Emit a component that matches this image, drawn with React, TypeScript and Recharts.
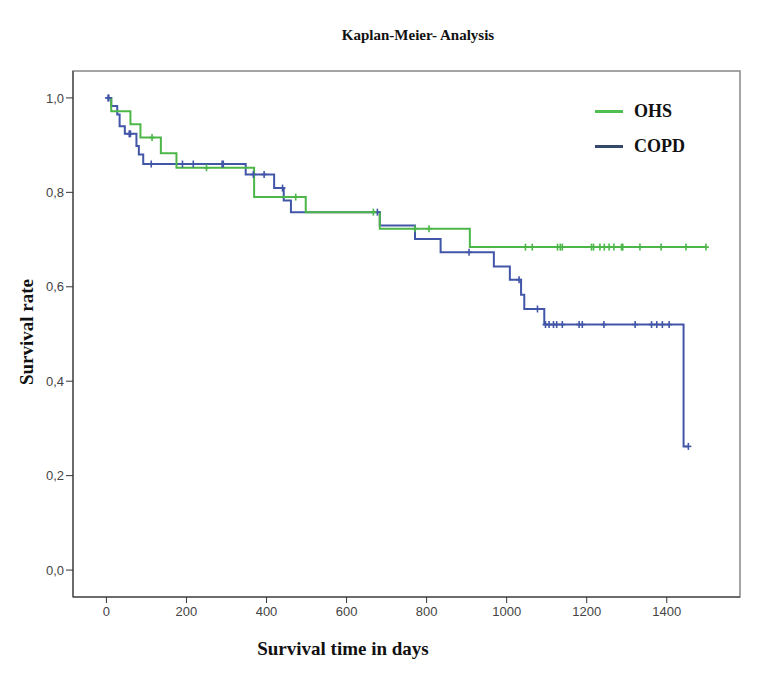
import { ComposedChart, Line, Scatter, XAxis, YAxis, ReferenceArea } from 'recharts'

// Kaplan-Meier step knots (time in days, survival)
const ohsTimes = [3, 12, 60, 85, 136, 175, 369, 498, 683, 908, 1498]
const ohsSurvival = [1.0, 0.972, 0.944, 0.916, 0.883, 0.852, 0.79, 0.758, 0.723, 0.684, 0.684]
const ohsCensored = [114, 250, 473, 667, 771, 806, 1047, 1064, 1127, 1134, 1139, 1212, 1217, 1233, 1244, 1256, 1268, 1287, 1290, 1333, 1386, 1448, 1498]

const copdTimes = [3, 12, 27, 33, 46, 75, 81, 92, 348, 419, 443, 461, 683, 771, 835, 968, 1008, 1036, 1044, 1094, 1442, 1454]
const copdSurvival = [1.0, 0.983, 0.965, 0.94, 0.924, 0.898, 0.88, 0.86, 0.838, 0.809, 0.783, 0.758, 0.73, 0.701, 0.673, 0.643, 0.615, 0.583, 0.553, 0.52, 0.262, 0.262]
const copdCensored = [4, 6, 57, 60, 112, 190, 217, 289, 292, 367, 394, 440, 677, 906, 1031, 1077, 1097, 1106, 1117, 1125, 1139, 1181, 1189, 1243, 1321, 1362, 1375, 1389, 1406, 1454]

const xTicks = [0, 200, 400, 600, 800, 1000, 1200, 1400]
const yTicks = [0, 0.2, 0.4, 0.6, 0.8, 1.0]

const X_DOMAIN: [number, number] = [-83.5, 1583]
const Y_DOMAIN: [number, number] = [-0.057, 1.057]

const GREEN = '#4cb648'
const BLUE = '#4256a8'
const SERIF = '"Liberation Serif", "DejaVu Serif", serif'
const NARROW = '"Liberation Sans Narrow", "Arial Narrow", "Liberation Sans", sans-serif'

function survivalAt(times: number[], surv: number[], t: number) {
  let s = surv[0]
  for (let i = 0; i < times.length; i++) if (times[i] <= t) s = surv[i]
  return s
}

const ohsData = ohsTimes.map((t, i) => ({ t, s: ohsSurvival[i] }))
const copdData = copdTimes.map((t, i) => ({ t, s: copdSurvival[i] }))
const ohsMarks = ohsCensored.map((t) => ({ t, s: survivalAt(ohsTimes, ohsSurvival, t) }))
const copdMarks = copdCensored.map((t) => ({ t, s: survivalAt(copdTimes, copdSurvival, t) }))

const plus = (color: string) => (props: any) => {
  const { cx, cy } = props
  return (
    <g stroke={color} strokeWidth={1.6}>
      <line x1={cx - 3} y1={cy} x2={cx + 3} y2={cy} />
      <line x1={cx} y1={cy - 3.5} x2={cx} y2={cy + 3.5} />
    </g>
  )
}

function LegendBox() {
  const items = [
    { name: 'OHS', color: '#4fbf4f' },
    { name: 'COPD', color: '#34486b' },
  ]
  return (
    <div style={{ position: 'absolute', left: 595, top: 94 }}>
      {items.map((it) => (
        <div key={it.name} style={{ display: 'flex', alignItems: 'center', height: 35 }}>
          <span style={{ width: 28, height: 3, background: it.color, marginRight: 11 }} />
          <span style={{ fontFamily: SERIF, fontWeight: 'bold', fontSize: 18, color: '#111' }}>{it.name}</span>
        </div>
      ))}
    </div>
  )
}

export default function App() {
  return (
    <div style={{ position: 'absolute', left: 0, top: 0, width: 771, height: 681, background: '#fff' }}>
      <ComposedChart width={771} height={681} margin={{ top: 71, right: 31, left: 0, bottom: 0 }}>
        <XAxis
          dataKey="t"
          type="number"
          domain={X_DOMAIN}
          ticks={xTicks}
          allowDataOverflow
          height={84}
          tickSize={6}
          tickMargin={4}
          stroke="#333"
          tick={{ fill: '#444', fontSize: 13, fontFamily: NARROW }}
        />
        <YAxis
          type="number"
          domain={Y_DOMAIN}
          ticks={yTicks}
          allowDataOverflow
          width={73}
          tickSize={7}
          tickMargin={2}
          stroke="#333"
          tickFormatter={(v: number) => v.toFixed(1).replace('.', ',')}
          tick={{ fill: '#444', fontSize: 13, fontFamily: NARROW }}
        />
        <ReferenceArea
          x1={X_DOMAIN[0]}
          x2={X_DOMAIN[1]}
          y1={Y_DOMAIN[0]}
          y2={Y_DOMAIN[1]}
          fill="none"
          stroke="#888"
          strokeWidth={1.5}
        />
        <Line data={copdData} dataKey="s" type="stepAfter" stroke={BLUE} strokeWidth={2} dot={false} activeDot={false} isAnimationActive={false} />
        <Line data={ohsData} dataKey="s" type="stepAfter" stroke={GREEN} strokeWidth={2} dot={false} activeDot={false} isAnimationActive={false} />
        <Scatter data={copdMarks} dataKey="s" shape={plus(BLUE)} isAnimationActive={false} />
        <Scatter data={ohsMarks} dataKey="s" shape={plus(GREEN)} isAnimationActive={false} />
      </ComposedChart>
      <LegendBox />
      <div style={{ position: 'absolute', left: 0, width: 836, top: 27, textAlign: 'center', fontFamily: SERIF, fontWeight: 'bold', fontSize: 15, color: '#111' }}>
        Kaplan-Meier- Analysis
      </div>
      <div style={{ position: 'absolute', left: 243, width: 200, top: 638, textAlign: 'center', fontFamily: SERIF, fontWeight: 'bold', fontSize: 19, color: '#111' }}>
        Survival time in days
      </div>
      <div
        style={{
          position: 'absolute',
          left: 27,
          top: 332,
          transform: 'translate(-50%, -50%) rotate(-90deg)',
          whiteSpace: 'nowrap',
          fontFamily: SERIF,
          fontWeight: 'bold',
          fontSize: 19,
          color: '#111',
        }}
      >
        Survival rate
      </div>
    </div>
  )
}
